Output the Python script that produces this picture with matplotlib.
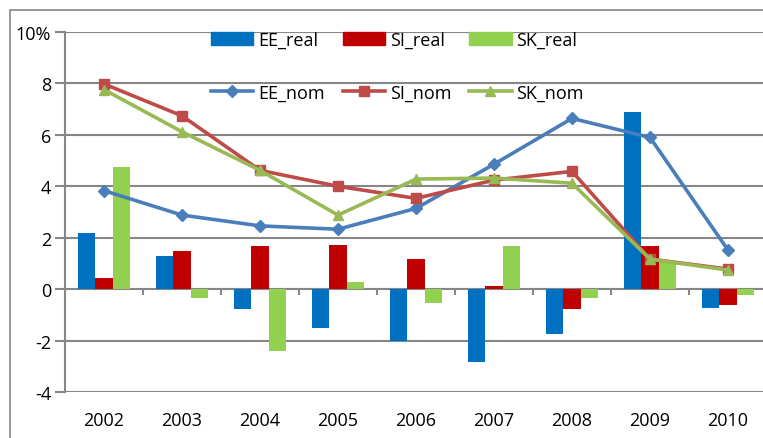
import matplotlib
matplotlib.use('Agg')
import matplotlib.pyplot as plt
import numpy as np
from matplotlib.patches import Rectangle, Patch
from matplotlib.lines import Line2D

years = ['2002', '2003', '2004', '2005', '2006', '2007', '2008', '2009', '2010']
ee_real = [2.2, 1.3, -0.77, -1.5, -2.0, -2.82, -1.74, 6.87, -0.72]
si_real = [0.44, 1.47, 1.67, 1.72, 1.17, 0.14, -0.77, 1.67, -0.6]
sk_real = [4.75, -0.35, -2.42, 0.27, -0.53, 1.66, -0.35, 1.1, -0.23]
ee_nom = [3.83, 2.88, 2.46, 2.33, 3.14, 4.86, 6.64, 5.9, 1.52]
si_nom = [7.98, 6.74, 4.62, 4.0, 3.53, 4.24, 4.58, 1.17, 0.78]
sk_nom = [7.76, 6.12, 4.62, 2.88, 4.28, 4.32, 4.12, 1.17, 0.74]
yticks = [-4, -2, 0, 2, 4, 6, 8, 10]
ytick_labels = ['-4', '-2', '0', '2', '4', '6', '8', '10%']

plt.rcParams['font.family'] = ['Open Sans', 'DejaVu Sans']
W, H = 763, 439
fig = plt.figure(figsize=(W / 100, H / 100), dpi=100)
ax = fig.add_axes([65 / W, 1 - 393 / H, (767 - 65) / W, 360 / H])

grey = '#868686'
x = np.arange(len(years))
bw = 0.22
ax.bar(x - bw, ee_real, bw, color='#0070C0', zorder=3)
ax.bar(x, si_real, bw, color='#C00000', zorder=3)
ax.bar(x + bw, sk_real, bw, color='#92D050', zorder=3)

c_ee, c_si, c_sk = '#4A7EBB', '#BE4B48', '#98B954'
ax.plot(x, ee_nom, color=c_ee, lw=2.6, marker='D', ms=6, zorder=4)
ax.plot(x, si_nom, color=c_si, lw=2.6, marker='s', ms=6.5, zorder=4)
ax.plot(x, sk_nom, color=c_sk, lw=2.6, marker='^', ms=7.5, zorder=4)

ax.set_xlim(-0.5, len(years) - 0.5)
ax.set_ylim(yticks[0], yticks[-1])
ax.set_yticks(yticks)
ax.set_yticklabels(ytick_labels)
ax.yaxis.grid(True, color=grey, lw=1.5, zorder=1)
ax.set_axisbelow(True)
for s in ['top', 'right', 'bottom']:
    ax.spines[s].set_visible(False)
ax.spines['left'].set_color(grey)
ax.spines['left'].set_linewidth(1.5)
ax.tick_params(axis='y', length=7, color=grey, width=1.5, labelsize=13, pad=3)
ax.set_xticks(x)
ax.set_xticklabels(years)
ax.tick_params(axis='x', length=0, pad=14, labelsize=13)
ax.vlines(x[:-1] + 0.5, -0.22, 0, color=grey, lw=1.5, zorder=2)

fig.add_artist(Rectangle((10 / W, -0.1), 1.2, 1 - 11 / H + 0.1,
                         transform=fig.transFigure, fill=False, ec=grey, lw=1.2))

handles = [
    Patch(color='#0070C0', label='EE_real'),
    Line2D([], [], color=c_ee, lw=2.6, marker='D', ms=6, label='EE_nom'),
    Patch(color='#C00000', label='SI_real'),
    Line2D([], [], color=c_si, lw=2.6, marker='s', ms=6.5, label='SI_nom'),
    Patch(color='#92D050', label='SK_real'),
    Line2D([], [], color=c_sk, lw=2.6, marker='^', ms=7.5, label='SK_nom'),
]
ax.legend(handles=handles, ncol=3, loc='upper left',
          bbox_to_anchor=(211 / W, 1 - 32 / H), bbox_transform=fig.transFigure,
          frameon=False, fontsize=13, handlelength=2.35, handletextpad=0.25,
          columnspacing=1.0, labelspacing=1.9, borderpad=0, borderaxespad=0)

fig.savefig('out.png', dpi=100)
